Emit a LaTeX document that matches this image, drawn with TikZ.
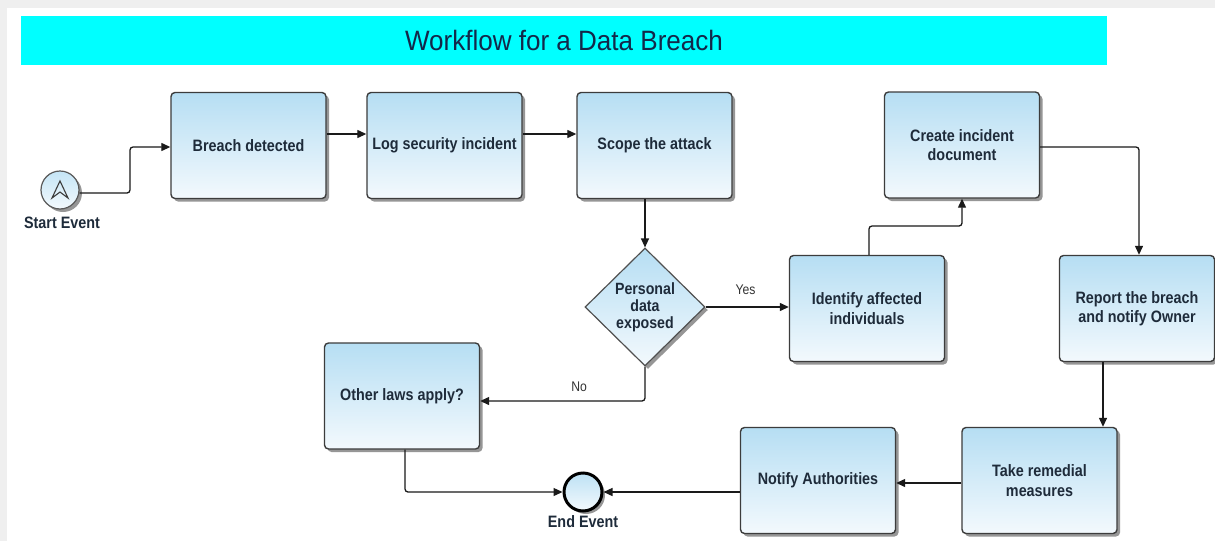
\documentclass[tikz,border=0pt]{standalone}
\usepackage{fontspec}
\newfontfamily\boxfont{Liberation Sans}[FakeStretch=0.87]
\newfontfamily\ttlfont{Liberation Sans}[FakeStretch=0.93]
\usetikzlibrary{shapes.geometric,shadows,arrows.meta}
\definecolor{boxtop}{HTML}{B6DEF3}
\definecolor{boxbot}{HTML}{F3F9FD}
\definecolor{boxline}{HTML}{3C3C3C}
\definecolor{txt}{HTML}{1E2B3A}
\definecolor{ttl}{HTML}{13284A}
\definecolor{ttlbg}{RGB}{0,255,255}
\definecolor{frame}{HTML}{EFEFEF}
\definecolor{flowc}{HTML}{1A1A1A}
\tikzset{
  shad/.style={drop shadow={shadow xshift=3pt,shadow yshift=-3pt,opacity=0.55,fill=black!75}},
  task/.style={rectangle,rounded corners=4pt,draw=boxline,line width=1.4pt,
    top color=boxtop,bottom color=boxbot,minimum width=155pt,minimum height=106pt,
    inner sep=2pt,align=center,text=txt,font=\boxfont\bfseries\fontsize{16.5}{19.5}\selectfont,shad},
  gate/.style={diamond,draw=boxline!90,line width=1.2pt,top color=boxtop,bottom color=boxbot,
    minimum width=120pt,minimum height=118pt,inner sep=0pt,align=center,text=txt,
    font=\boxfont\bfseries\fontsize{16.3}{17}\selectfont,shad},
  startev/.style={circle,draw=boxline!85,line width=1.2pt,top color=boxtop!80,bottom color=boxbot,
    minimum size=38pt,inner sep=0pt,shad},
  endev/.style={circle,draw=black,line width=3pt,top color=boxtop!90,bottom color=boxbot,
    minimum size=38pt,inner sep=0pt,shad},
  evlabel/.style={text=txt,font=\boxfont\bfseries\fontsize{16.5}{19.5}\selectfont,inner sep=0pt},
  flowlabel/.style={text=black!80,font=\boxfont\fontsize{14}{16}\selectfont,inner sep=0pt},
  flow/.style={draw=flowc,line width=1.3pt,rounded corners=3pt,-{Triangle[length=9pt,width=8pt]}}
}
\begin{document}
\begin{tikzpicture}[x=1pt,y=-1pt]
\useasboundingbox (0,0) rectangle (1215,541);
\fill[frame] (0,0) rectangle (1215,541);
\fill[white] (7,8) rectangle (1215,541);

% title
\node[fill=ttlbg,minimum width=1086pt,minimum height=49pt,inner sep=0pt,
  text=ttl,font=\ttlfont\fontsize{28}{30}\selectfont] (title) at (564,40.5) {Workflow for a Data Breach};

% events
\node[startev] (start) at (60,190) {};
\draw[boxline,line width=1.1pt,line join=miter]
  ([shift={(-8,8)}]start.center) -- ([shift={(0,-9)}]start.center)
  -- ([shift={(8,8)}]start.center) -- ([shift={(0,2)}]start.center) -- cycle;
\node[evlabel] (startlbl) at (62,223) {Start Event};
\node[endev] (end) at (583,492) {};
\node[evlabel] (endlbl) at (583,522) {End Event};

% tasks
\node[task] (b1) at (248.5,145.5) {Breach detected};
\node[task] (b2) at (444.5,145.5) {Log security incident};
\node[task] (b3) at (654.5,145.5) {Scope the attack};
\node[task] (b4) at (962,145) {Create incident\\document};
\node[task] (b5) at (1137,308.5) {Report the breach\\and notify Owner};
\node[task] (b6) at (867,308.5) {Identify affected\\individuals};
\node[task] (b7) at (402,396) {Other laws apply?};
\node[task] (b8) at (818,480.5) {Notify Authorities};
\node[task] (b9) at (1039.5,480.5) {Take remedial\\measures};
\node[gate] (d) at (645,307) {Personal\\data\\exposed};

% connectors
\draw[flow] (start.east |- 0,193) -- (130,193) -- (130,147) -- (b1.west |- 0,147);
\draw[flow] (b1.east |- 0,134) -- (b2.west |- 0,134);
\draw[flow] (b2.east |- 0,134) -- (b3.west |- 0,134);
\draw[flow] (b3.south -| d.north) -- (d.north);
\draw[flow] (d.east) -- node[flowlabel,pos=0.48,above=12pt] (yes) {Yes} (b6.west |- d.east);
\draw[flow] (d.south) -- (645,401) -- node[flowlabel,pos=0.4,above=9pt] (no) {No} (b7.east |- 0,401);
\draw[flow] (b6.north -| 869,0) -- (869,226) -- (962,226) -- (b4.south);
\draw[flow] (b4.east |- 0,147) -- (1139,147) -- (b5.north -| 1139,0);
\draw[flow] (b5.south -| 1103,0) -- (b9.north -| 1103,0);
\draw[flow] (b9.west |- 0,483) -- (b8.east |- 0,483);
\draw[flow] (b8.west |- end.east) -- (end.east);
\draw[flow] (b7.south -| 405,0) -- (405,492) -- (end.west);
\end{tikzpicture}
\end{document}
